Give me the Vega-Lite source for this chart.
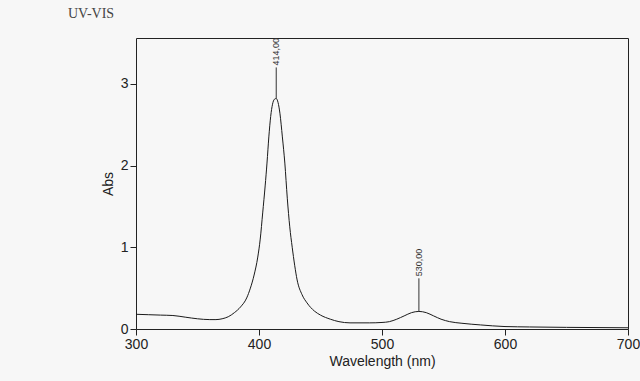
{
  "$schema": "https://vega.github.io/schema/vega-lite/v6.json",
  "width": 492,
  "height": 291,
  "autosize": "none",
  "padding": {"left": 136, "top": 38, "right": 12, "bottom": 52},
  "background": "#f7f7f7",
  "title": {
    "text": "UV-VIS",
    "anchor": "start",
    "frame": "group",
    "dx": -68,
    "offset": 17,
    "font": "Liberation Serif",
    "fontSize": 14,
    "fontWeight": "normal",
    "color": "#444"
  },
  "config": {
    "view": {"stroke": "#222", "strokeWidth": 1},
    "axis": {
      "grid": false,
      "domain": false,
      "tickColor": "#222",
      "tickSize": 6,
      "labelFont": "Liberation Sans",
      "labelFontSize": 14,
      "labelColor": "#222",
      "titleFont": "Liberation Sans",
      "titleFontSize": 14,
      "titleFontWeight": "normal",
      "titleColor": "#222"
    }
  },
  "datasets": {
    "spectrum": [
      {"wl": 300, "abs": 0.18}, {"wl": 310, "abs": 0.175}, {"wl": 320, "abs": 0.17},
      {"wl": 330, "abs": 0.165}, {"wl": 340, "abs": 0.145}, {"wl": 350, "abs": 0.125},
      {"wl": 360, "abs": 0.115}, {"wl": 365, "abs": 0.115}, {"wl": 370, "abs": 0.125},
      {"wl": 375, "abs": 0.15}, {"wl": 380, "abs": 0.2}, {"wl": 385, "abs": 0.27},
      {"wl": 390, "abs": 0.38}, {"wl": 393, "abs": 0.5}, {"wl": 396, "abs": 0.66},
      {"wl": 399, "abs": 0.88}, {"wl": 401, "abs": 1.1}, {"wl": 403, "abs": 1.42},
      {"wl": 405, "abs": 1.75}, {"wl": 406.5, "abs": 2.03}, {"wl": 408, "abs": 2.35},
      {"wl": 409.5, "abs": 2.6}, {"wl": 411, "abs": 2.75}, {"wl": 412.5, "abs": 2.81},
      {"wl": 414, "abs": 2.82}, {"wl": 415.5, "abs": 2.77}, {"wl": 417, "abs": 2.64},
      {"wl": 419, "abs": 2.35}, {"wl": 421, "abs": 2.03}, {"wl": 423, "abs": 1.6},
      {"wl": 425, "abs": 1.25}, {"wl": 427, "abs": 1.0}, {"wl": 429, "abs": 0.78},
      {"wl": 431, "abs": 0.6}, {"wl": 435, "abs": 0.42}, {"wl": 439, "abs": 0.32},
      {"wl": 445, "abs": 0.22}, {"wl": 450, "abs": 0.17}, {"wl": 458, "abs": 0.12},
      {"wl": 465, "abs": 0.09}, {"wl": 474, "abs": 0.075}, {"wl": 490, "abs": 0.075},
      {"wl": 500, "abs": 0.08}, {"wl": 506, "abs": 0.09}, {"wl": 512, "abs": 0.12},
      {"wl": 518, "abs": 0.16}, {"wl": 524, "abs": 0.2}, {"wl": 530, "abs": 0.215},
      {"wl": 536, "abs": 0.2}, {"wl": 542, "abs": 0.16}, {"wl": 548, "abs": 0.12},
      {"wl": 555, "abs": 0.09}, {"wl": 565, "abs": 0.07}, {"wl": 580, "abs": 0.05},
      {"wl": 600, "abs": 0.03}, {"wl": 620, "abs": 0.025}, {"wl": 650, "abs": 0.02},
      {"wl": 700, "abs": 0.015}
    ],
    "peaks": [
      {"wl": 414, "abs": 2.82, "top": 3.2, "label": "414,00"},
      {"wl": 530, "abs": 0.215, "top": 0.62, "label": "530,00"}
    ]
  },
  "layer": [
    {
      "data": {"name": "spectrum"},
      "mark": {"type": "line", "color": "#1a1a1a", "strokeWidth": 1, "interpolate": "monotone", "clip": true},
      "encoding": {
        "x": {
          "field": "wl", "type": "quantitative",
          "scale": {"domain": [300, 700], "nice": false, "zero": false},
          "axis": {"values": [300, 400, 500, 600, 700], "format": "d", "title": "Wavelength (nm)", "labelPadding": 2, "titlePadding": 3, "labelFlush": false}
        },
        "y": {
          "field": "abs", "type": "quantitative",
          "scale": {"domain": [0, 3.56], "nice": false},
          "axis": {"values": [0, 1, 2, 3], "format": "d", "title": "Abs", "labelPadding": 2, "titlePadding": 5, "labelFlush": false}
        }
      }
    },
    {
      "data": {"name": "peaks"},
      "mark": {"type": "rule", "color": "#333", "strokeWidth": 1},
      "encoding": {
        "x": {"field": "wl", "type": "quantitative"},
        "y": {"field": "abs", "type": "quantitative"},
        "y2": {"field": "top"}
      }
    },
    {
      "data": {"name": "peaks"},
      "mark": {"type": "text", "angle": 270, "align": "left", "baseline": "middle", "dx": 2, "font": "Liberation Sans", "fontSize": 9, "color": "#333"},
      "encoding": {
        "x": {"field": "wl", "type": "quantitative"},
        "y": {"field": "top", "type": "quantitative"},
        "text": {"field": "label"}
      }
    }
  ]
}
